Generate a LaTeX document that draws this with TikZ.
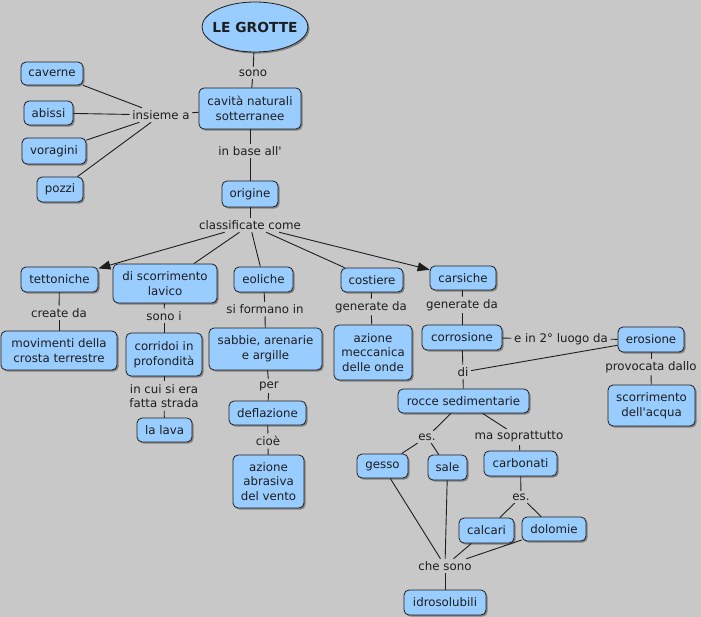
\documentclass[tikz,border=0pt]{standalone}
\usepackage{fontspec}
\setmainfont{DejaVu Sans}
\usetikzlibrary{shapes.geometric,shadows,arrows.meta}
\definecolor{bgray}{RGB}{200,200,200}
\definecolor{cblue}{RGB}{153,204,255}
\definecolor{ink}{RGB}{30,30,30}
\newcommand{\cmapfnt}{\fontsize{11.8bp}{14.8bp}\selectfont}
\tikzset{
  concept/.style={draw=ink, line width=0.8bp, fill=cblue, rounded corners=5bp, inner sep=1bp,
    align=center, font=\cmapfnt, text=ink,
    drop shadow={shadow xshift=1.6bp, shadow yshift=-1.6bp, fill=black, opacity=0.35}},
  lbl/.style={inner sep=2.5bp, font=\cmapfnt, align=center, text=ink},
  link/.style={draw=ink, line width=0.9bp},
  arr/.style={link, -{Triangle[length=12bp,width=9bp]}}
}
\begin{document}
\begin{tikzpicture}[x=1bp,y=-1bp]
\fill[bgray] (0,0) rectangle (701,617);
\useasboundingbox (0,0) rectangle (701,617);

% concepts
\node[concept, ellipse, rounded corners=0pt, inner sep=0pt, minimum width=106bp, minimum height=50bp, font=\fontsize{13.8bp}{16bp}\selectfont\bfseries] (grotte) at (255,27) {\makebox[0pt]{LE GROTTE}};
\node[concept, minimum width=102bp, minimum height=41bp] (cavita) at (250,108.5) {cavità naturali\\sotterranee};
\node[concept, minimum width=62bp, minimum height=23bp] (caverne) at (52,73.5) {caverne};
\node[concept, minimum width=49bp, minimum height=24bp] (abissi) at (48.5,113) {abissi};
\node[concept, minimum width=64bp, minimum height=26bp] (voragini) at (54,151) {voragini};
\node[concept, minimum width=46bp, minimum height=25bp] (pozzi) at (60,189.5) {pozzi};
\node[concept, minimum width=56bp, minimum height=26bp] (origine) at (250,194) {origine};
\node[concept, minimum width=77bp, minimum height=25bp] (tettoniche) at (59.5,279.5) {tettoniche};
\node[concept, minimum width=104bp, minimum height=39bp] (lavico) at (165,283.5) {di scorrimento\\lavico};
\node[concept, minimum width=59bp, minimum height=25bp] (eoliche) at (263.5,279.5) {eoliche};
\node[concept, minimum width=62bp, minimum height=24bp] (costiere) at (372,280) {costiere};
\node[concept, minimum width=66bp, minimum height=24bp] (carsiche) at (463,278) {carsiche};
\node[concept, minimum width=116bp, minimum height=39bp] (movimenti) at (59,350.5) {movimenti della\\crosta terrestre};
\node[concept, minimum width=76bp, minimum height=43bp] (corridoi) at (164,354.5) {corridoi in\\profondità};
\node[concept, minimum width=55bp, minimum height=24bp] (lava) at (164.5,430) {la lava};
\node[concept, minimum width=113bp, minimum height=42bp] (sabbie) at (265.5,349) {sabbie, arenarie\\e argille};
\node[concept, minimum width=77bp, minimum height=24bp] (deflazione) at (267.5,413) {deflazione};
\node[concept, minimum width=71bp, minimum height=53bp] (abrasiva) at (268.5,481.5) {azione\\abrasiva\\del vento};
\node[concept, minimum width=78bp, minimum height=55bp] (meccanica) at (373,352.5) {azione\\meccanica\\delle onde};
\node[concept, minimum width=80bp, minimum height=25bp] (corrosione) at (462,337.5) {corrosione};
\node[concept, minimum width=66bp, minimum height=25bp] (erosione) at (651,339.5) {erosione};
\node[concept, minimum width=87bp, minimum height=41bp] (acqua) at (651.5,405.5) {scorrimento\\dell\textquotesingle acqua};
\node[concept, minimum width=131bp, minimum height=24bp] (rocce) at (463.5,401) {rocce sedimentarie};
\node[concept, minimum width=51bp, minimum height=24bp] (gesso) at (382.5,466) {gesso};
\node[concept, minimum width=39bp, minimum height=25bp] (sale) at (447.5,467.5) {sale};
\node[concept, minimum width=73bp, minimum height=25bp] (carbonati) at (520.5,463.5) {carbonati};
\node[concept, minimum width=55bp, minimum height=25bp] (calcari) at (486.5,530.5) {calcari};
\node[concept, minimum width=64bp, minimum height=24bp] (dolomie) at (554,529) {dolomie};
\node[concept, minimum width=82bp, minimum height=25bp] (idro) at (445,602.5) {idrosolubili};

% linking phrases
\node[lbl] (sono) at (253,73) {sono};
\node[lbl] (insieme) at (161,115) {insieme a};
\node[lbl] (inbase) at (250,151) {in base all\textquotesingle};
\node[lbl] (classif) at (250,225) {classificate come};
\node[lbl] (create) at (59,313) {create da};
\node[lbl] (sonoi) at (164,316) {sono i};
\node[lbl] (incui) at (164,396) {in cui si era\\fatta strada};
\node[lbl] (siform) at (265,309) {si formano in};
\node[lbl] (per) at (269,386) {per};
\node[lbl] (cioe) at (268,441) {cioè};
\node[lbl] (genA) at (371,307) {generate da};
\node[lbl] (genB) at (462,305) {generate da};
\node[lbl] (secondo) at (561,339) {e in 2° luogo da};
\node[lbl] (provoc) at (651,367) {provocata dallo};
\node[lbl] (di) at (463,372) {di};
\node[lbl] (esA) at (427,437) {es.};
\node[lbl] (masopr) at (519,437) {ma soprattutto};
\node[lbl] (esB) at (521,497) {es.};
\node[lbl] (chesono) at (445,566) {che sono};

% connectors
\draw[link] (grotte) -- (sono);
\draw[link] (sono) -- (cavita);
\draw[link] (cavita) -- (insieme);
\draw[link] (insieme) -- (caverne);
\draw[link] (insieme) -- (abissi);
\draw[link] (insieme) -- (voragini);
\draw[link] (insieme) -- (pozzi);
\draw[link] (cavita) -- (inbase);
\draw[link] (inbase) -- (origine);
\draw[link] (origine) -- (classif);
\draw[arr] (classif) -- (tettoniche);
\draw[link] (classif) -- (lavico);
\draw[link] (classif) -- (eoliche);
\draw[link] (classif) -- (costiere);
\draw[arr] (classif) -- (carsiche);
\draw[link] (tettoniche) -- (create);
\draw[link] (create) -- (movimenti);
\draw[link] (lavico) -- (sonoi);
\draw[link] (sonoi) -- (corridoi);
\draw[link] (corridoi) -- (incui);
\draw[link] (incui) -- (lava);
\draw[link] (eoliche) -- (siform);
\draw[link] (siform) -- (sabbie);
\draw[link] (sabbie) -- (per);
\draw[link] (per) -- (deflazione);
\draw[link] (deflazione) -- (cioe);
\draw[link] (cioe) -- (abrasiva);
\draw[link] (costiere) -- (genA);
\draw[link] (genA) -- (meccanica);
\draw[link] (carsiche) -- (genB);
\draw[link] (genB) -- (corrosione);
\draw[link] (corrosione) -- (secondo);
\draw[link] (secondo) -- (erosione);
\draw[link] (corrosione) -- (di);
\draw[link] (erosione) -- (di);
\draw[link] (di) -- (rocce);
\draw[link] (erosione) -- (provoc);
\draw[link] (provoc) -- (acqua);
\draw[link] (rocce) -- (esA);
\draw[link] (rocce) -- (masopr);
\draw[link] (esA) -- (gesso);
\draw[link] (esA) -- (sale);
\draw[link] (masopr) -- (carbonati);
\draw[link] (carbonati) -- (esB);
\draw[link] (esB) -- (calcari);
\draw[link] (esB) -- (dolomie);
\draw[link] (gesso) -- (chesono);
\draw[link] (sale) -- (chesono);
\draw[link] (calcari) -- (chesono);
\draw[link] (dolomie) -- (chesono);
\draw[link] (chesono) -- (idro);
\end{tikzpicture}
\end{document}
